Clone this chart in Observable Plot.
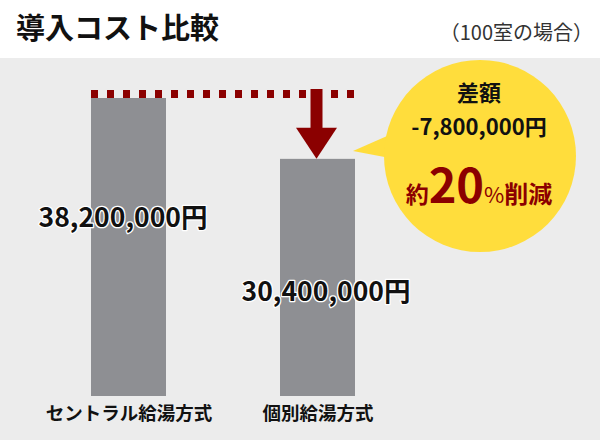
<!DOCTYPE html>
<html><head><meta charset="utf-8">
<script src="https://cdn.jsdelivr.net/npm/d3@7"></script>
<script src="https://cdn.jsdelivr.net/npm/@observablehq/plot@0.6"></script>
<style>
body{margin:0;background:#fff;font-family:"Noto Sans CJK JP","Noto Sans",sans-serif;}
#wrap{width:600px;height:440px;position:relative;overflow:hidden}
#head{height:58px;position:relative;background:#fff}
#title{position:absolute;left:16px;top:12px;font-size:29px;line-height:29px;font-weight:700;color:#111;white-space:nowrap}
#sub{position:absolute;right:7px;top:22px;font-size:20px;line-height:20px;font-weight:400;color:#333;white-space:nowrap}
#chart svg{display:block}
</style>
</head><body>
<div id="wrap">
  <div id="head"><div id="title">導入コスト比較</div><div id="sub">（100室の場合）</div></div>
  <div id="chart"></div>
</div>
<script>
const categories = ["セントラル給湯方式", "個別給湯方式"];
const costs = [38200000, 30400000];
const valueLabels = ["38,200,000円", "30,400,000円"];

const data = categories.map((c, i) => ({cat: c, cost: costs[i], label: valueLabels[i]}));
const diff = costs[0] - costs[1];
const pct = Math.round(diff / costs[0] * 100);
const diffLabel = "-" + d3.format(",")(diff) + "円";

const RED = "#8b0000", YELLOW = "#ffdd3c", GRAY = "#8e8f93";

function annotation(index, scales) {
  const x = scales.x, y = scales.y;
  const bw = typeof x.bandwidth === "function" ? x.bandwidth() : x.bandwidth;
  const yTop = y(costs[0]), y2 = y(costs[1]);
  const xs = x(categories[0]), xe = x(categories[1]) + bw;
  const cx = x(categories[1]) + bw / 2 - 1;
  const g = d3.create("svg:g");
  // dotted reference line
  g.append("line").attr("x1", xs).attr("x2", xe).attr("y1", yTop - 4).attr("y2", yTop - 4)
    .attr("stroke", RED).attr("stroke-width", 8).attr("stroke-dasharray", "7,9");
  // arrow
  g.append("rect").attr("x", cx - 6).attr("y", yTop - 9).attr("width", 12).attr("height", (y2 - 30) - (yTop - 9))
    .attr("fill", RED);
  g.append("polygon").attr("points", `${cx - 20.5},${y2 - 31} ${cx + 20.5},${y2 - 31} ${cx},${y2}`).attr("fill", RED);
  // speech bubble
  const bx = 480, by = yTop + 58, r = 96;
  g.append("polygon").attr("points", `353,${by - 5} 395,${by - 23.4} 395,${by + 2.9}`).attr("fill", YELLOW);
  g.append("circle").attr("cx", bx).attr("cy", by).attr("r", r).attr("fill", YELLOW);
  const tx = bx - 1;
  g.append("text").attr("x", tx).attr("y", by - 55).attr("text-anchor", "middle")
    .attr("font-size", 22).attr("font-weight", 700).attr("fill", "#111").text("差額");
  g.append("text").attr("x", tx).attr("y", by - 21).attr("text-anchor", "middle")
    .attr("font-size", 22).attr("font-weight", 700).attr("fill", "#111").text(diffLabel);
  const t = g.append("text").attr("x", tx).attr("y", by + 47).attr("text-anchor", "middle")
    .attr("font-weight", 700).attr("fill", RED);
  t.append("tspan").attr("font-size", 23).text("約");
  t.append("tspan").attr("font-size", 47).text(String(pct));
  t.append("tspan").attr("font-size", 22).attr("font-weight", 400).text("%");
  t.append("tspan").attr("font-size", 24).text("削減");
  return g.node();
}

const plot = Plot.plot({
  width: 600,
  height: 382,
  marginTop: 40,
  marginBottom: 44,
  marginLeft: 90,
  marginRight: 245,
  style: {background: "#ececec", fontFamily: "'Noto Sans CJK JP', 'Noto Sans', sans-serif", color: "#111", overflow: "visible"},
  x: {domain: categories, paddingInner: 0.605, paddingOuter: 0, label: null},
  y: {domain: [0, costs[0]], axis: null},
  marks: [
    Plot.barY(data, {x: "cat", y: "cost", fill: GRAY}),
    Plot.axisX({tickSize: 0, tickPadding: 10, fontSize: 18.5, fontWeight: "bold", label: null}),
    annotation,
    Plot.text(data, {filter: (d, i) => i === 0, x: "cat", y: "cost", text: "label", dx: -6, dy: 120,
      fontSize: 26.5, fontWeight: "bold", fill: "#111", stroke: "white", strokeWidth: 2.5}),
    Plot.text(data, {filter: (d, i) => i === 1, x: "cat", y: "cost", text: "label", dx: 8, dy: 133,
      fontSize: 26.5, fontWeight: "bold", fill: "#111", stroke: "white", strokeWidth: 2.5})
  ]
});
document.getElementById("chart").appendChild(plot);
</script>
</body></html>
